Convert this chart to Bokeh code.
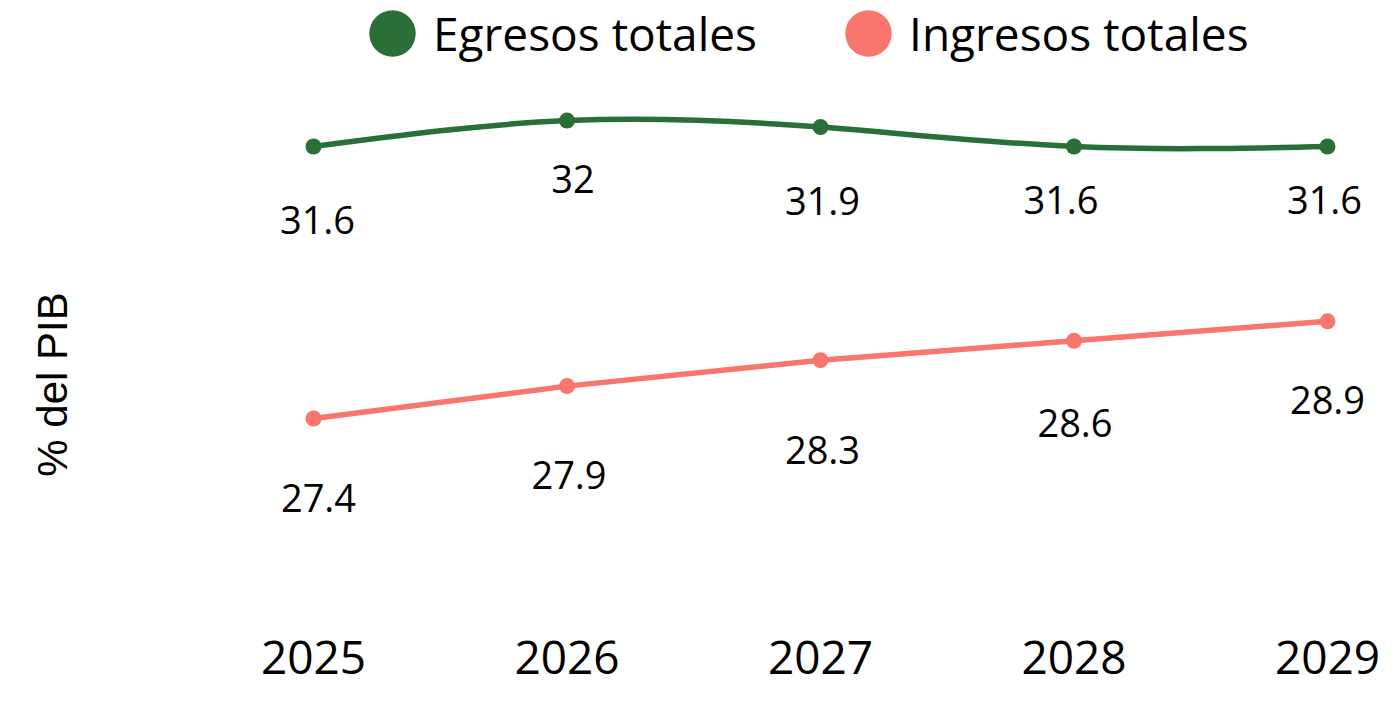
import numpy as np
from bokeh.plotting import figure
from bokeh.models import ColumnDataSource, Legend, LegendItem, Label, FixedTicker, Range1d
from bokeh.core.properties import value
from bokeh.embed import file_html
from bokeh.resources import INLINE

# ---------------- data ----------------
years = [2025, 2026, 2027, 2028, 2029]
egresos = [31.6, 32.0, 31.9, 31.6, 31.6]
ingresos = [27.4, 27.9, 28.3, 28.6, 28.9]
egresos_labels = ["31.6", "32", "31.9", "31.6", "31.6"]
ingresos_labels = ["27.4", "27.9", "28.3", "28.6", "28.9"]
series_names = ["Egresos totales", "Ingresos totales"]
y_axis_title = "% del PIB"

# label placement (screen px, label centre relative to its point; + = down / right)
egr_label_dy = [76, 61, 76, 56, 56]
egr_label_dx = [4, 6, 2, -13, -3]
ing_label_dy = [82, 91, 92, 85, 81]
ing_label_dx = [5, 2, 2, 1, 0]

# ---------------- style / layout ----------------
GREEN = "#2A6E38"
SALMON = "#F8766D"
W, H = 1383, 687
BOTTOM = 36
B = H - BOTTOM        # frame height (frame top = 0, frame left = 0)
PX_PER_YEAR = 253.5
PX_PER_UNIT = 64.76
X0_PX = 313           # px of first year from frame left
Y_REF_PX = 418        # px of the first ingreso value from frame top
LABEL_FS = 38
LABEL_BASE = -2.4
MARKER = 16

x_start = years[0] - X0_PX / PX_PER_YEAR
x_end = x_start + W / PX_PER_YEAR
y_end = ingresos[0] + Y_REF_PX / PX_PER_UNIT
y_start = y_end - B / PX_PER_UNIT

p = figure(width=W, height=H, output_backend="svg", toolbar_location=None,
           x_range=Range1d(x_start, x_end), y_range=Range1d(y_start, y_end),
           min_border_left=0, min_border_right=0, min_border_top=0, min_border_bottom=BOTTOM)
p.outline_line_color = None
p.background_fill_color = "white"
p.border_fill_color = "white"
p.grid.visible = False
p.yaxis.visible = False

ax = p.xaxis[0]
ax.ticker = FixedTicker(ticks=years)
ax.axis_line_color = None
ax.major_tick_line_color = None
ax.minor_tick_line_color = None
ax.major_tick_out = 0
ax.major_tick_in = 0
ax.major_label_standoff = -11
ax.major_label_text_font = "Open Sans"
ax.major_label_text_font_size = "46px"
ax.major_label_text_color = "black"


# natural cubic spline -> bezier segments
def spline_beziers(xs, ys):
    xs = np.asarray(xs, float)
    ys = np.asarray(ys, float)
    n = len(xs)
    h = np.diff(xs)
    A = np.zeros((n, n))
    r = np.zeros(n)
    A[0, 0] = A[-1, -1] = 1.0
    for i in range(1, n - 1):
        A[i, i - 1] = h[i - 1]
        A[i, i] = 2 * (h[i - 1] + h[i])
        A[i, i + 1] = h[i]
        r[i] = 6 * ((ys[i + 1] - ys[i]) / h[i] - (ys[i] - ys[i - 1]) / h[i - 1])
    M = np.linalg.solve(A, r)
    sl = (ys[1:] - ys[:-1]) / h
    d0 = sl - h * (2 * M[:-1] + M[1:]) / 6
    d1 = sl + h * (M[:-1] + 2 * M[1:]) / 6
    return dict(x0=xs[:-1], y0=ys[:-1], x1=xs[1:], y1=ys[1:],
                cx0=xs[:-1] + h / 3, cy0=ys[:-1] + d0 * h / 3,
                cx1=xs[1:] - h / 3, cy1=ys[1:] - d1 * h / 3)


bz = ColumnDataSource(spline_beziers(years, egresos))
p.bezier(x0="x0", y0="y0", x1="x1", y1="y1", cx0="cx0", cy0="cy0", cx1="cx1", cy1="cy1",
         source=bz, line_color=GREEN, line_width=5.5, line_cap="round")
p.line(years, ingresos, line_color=SALMON, line_width=5.5, line_cap="round", line_join="round")

r_egr = p.ellipse(x=years, y=egresos, width=MARKER, height=MARKER,
                  width_units="screen", height_units="screen",
                  fill_color=GREEN, line_color=None)
r_ing = p.ellipse(x=years, y=ingresos, width=MARKER, height=MARKER,
                  width_units="screen", height_units="screen",
                  fill_color=SALMON, line_color=None)

for vals, labs, dy, dx in [(egresos, egresos_labels, egr_label_dy, egr_label_dx),
                           (ingresos, ingresos_labels, ing_label_dy, ing_label_dx)]:
    src = ColumnDataSource(dict(x=years, y=vals, t=labs,
                                yo=[d + LABEL_BASE for d in dy], xo=dx))
    p.text(x="x", y="y", text="t", source=src, x_offset="xo", y_offset="yo",
           text_font=value("Open Sans"), text_font_size=f"{LABEL_FS}px",
           text_align="center", text_baseline="alphabetic", text_color="black")

# y-axis title (screen units, relative to the frame's bottom-left corner)
p.add_layout(Label(x=52, y=B - 384, x_units="screen", y_units="screen",
                   text=y_axis_title, angle=np.pi / 2, text_align="center",
                   text_baseline="middle", text_font="Liberation Sans",
                   text_font_size="42px", text_color="black"))

# legend (ellipse legend glyph diameter = 0.8 * glyph box)
GLYPH = 58
LEG_CY = 35
legend = Legend(items=[LegendItem(label=series_names[0], renderers=[r_egr]),
                       LegendItem(label=series_names[1], renderers=[r_ing])],
                orientation="horizontal",
                location=(392 - GLYPH // 2, B - LEG_CY - GLYPH // 2),
                glyph_width=GLYPH, glyph_height=GLYPH, label_standoff=12, spacing=82,
                padding=0, margin=0, border_line_color=None, background_fill_alpha=0,
                label_text_font="Open Sans", label_text_font_size="46px",
                label_text_color="black")
p.add_layout(legend, "center")

open("out.html", "w").write(file_html(p, INLINE))
